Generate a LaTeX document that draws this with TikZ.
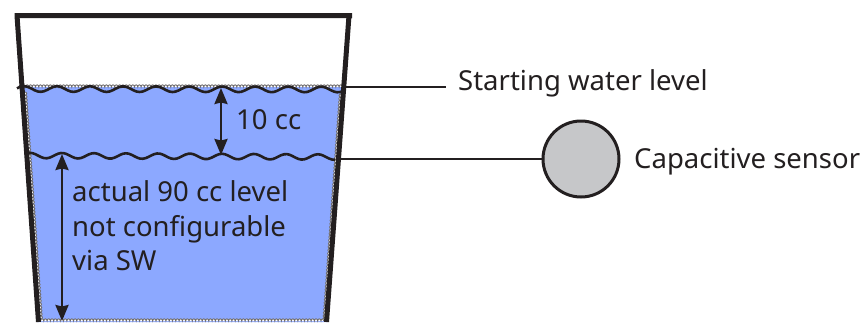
\documentclass[tikz,border=0pt]{standalone}
\usepackage{fontspec}
\setmainfont{Noto Sans}
\usetikzlibrary{arrows.meta,decorations.pathmorphing}
\definecolor{water}{HTML}{8CA8FF}
\definecolor{ink}{HTML}{231F20}
\definecolor{sensor}{HTML}{C6C7C9}
\tikzset{
  x=1pt,y=-1pt,
  wall/.style={draw=ink,line width=5pt,line join=miter},
  wave/.style={draw=ink,line width=2.6pt,smooth},
  leader/.style={draw=ink,line width=2.4pt},
  dim/.style={draw=ink,line width=2.4pt,{Stealth[length=16pt,width=13pt,inset=1.5pt]}-{Stealth[length=16pt,width=13pt,inset=1.5pt]}},
  scallop/.style={draw=ink!65,line width=0.9pt,decorate,decoration={bumps,segment length=6.6pt,amplitude=2.2pt}},
  label/.style={inner sep=0pt,anchor=base west,text=ink,font=\fontsize{27.5}{33}\selectfont,align=left},
}
\begin{document}
\begin{tikzpicture}
\useasboundingbox (0,0) rectangle (864,322);
% water
\fill[water] (20,87) -- (345,87) -- (327,322) -- (37,322) -- cycle;
% scalloped edges of the water
\draw[scallop] (19,87) -- (345,87);
\draw[scallop,fill=white] (24.5,92) -- (40.5,321);
\draw[scallop,fill=white] (40.5,321) -- (325,321);
\draw[scallop,fill=white] (325,321) -- (341.5,92);
% cup
\coordinate (tl) at (14.5,15.5);
\coordinate (tr) at (352,15.5);
\draw[wall] (38.5,322) -- (17,15.5) -- (tl) -- (tr) -- (349,15.5) -- (326.5,322);
% waves
\draw[wave] plot[domain=17:343,samples=110] (\x,{89+0.0015*(\x-17)-2.8*sin((\x-48.75)*10.9)});
\draw[wave] plot[domain=27:335,samples=110] (\x,{155.5+0.005*(\x-27)-2.7*sin((\x-54)*11.25)});
% level coordinates
\coordinate (startL) at (346,87);
\coordinate (startR) at (446,87);
\coordinate (capL) at (336,159);
\coordinate (a1t) at (221,88);
\coordinate (a1b) at (221,155);
\coordinate (a2t) at (62,154);
\coordinate (a2b) at (62,321);
% sensor
\node[circle,draw=ink,line width=3pt,fill=sensor,minimum size=76pt,inner sep=0pt] (sensorN) at (581,159) {};
% connectors
\draw[leader] (startL) -- (startR);
\draw[leader] (capL) -- (sensorN.west);
\draw[dim] (a1t) -- (a1b);
\draw[dim] (a2t) -- (a2b);
% labels
\node[label] (startT) at (458,90) {Starting water level};
\node[label] (capT) at (634,168) {Capacitive sensor};
\node[label] (tenT) at (236,129) {10 cc};
\node[label] (l1) at (72,201) {actual 90 cc level};
\node[label] (l2) at (72,236) {not configurable};
\node[label] (l3) at (72,270) {via SW};
\end{tikzpicture}
\end{document}
